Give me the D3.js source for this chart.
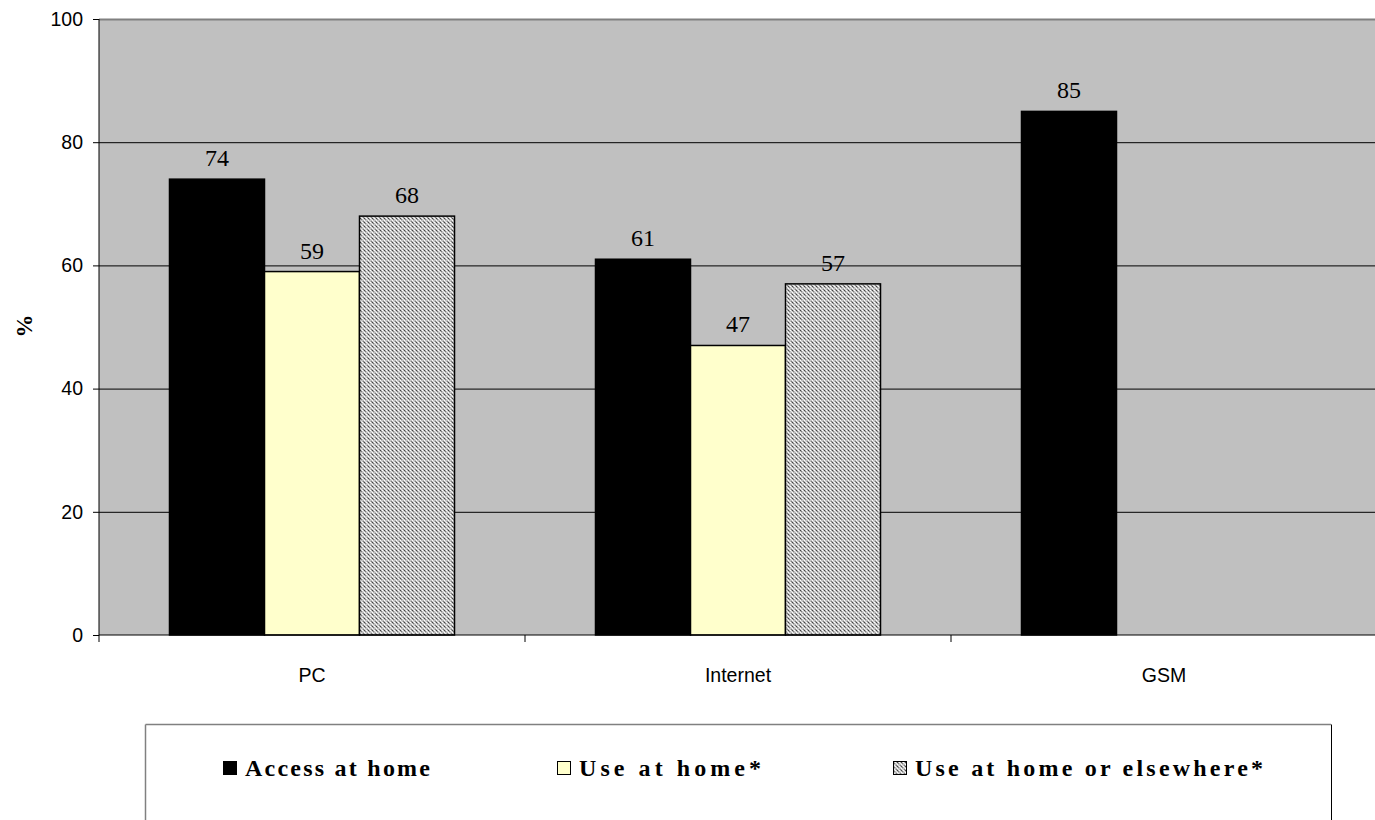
<!DOCTYPE html>
<html><head><meta charset="utf-8">
<script src="https://cdn.jsdelivr.net/npm/d3@7"></script>
<style>body{margin:0;background:#fff;}svg{display:block;}</style>
</head><body>
<svg id="c" width="1375" height="820"></svg>
<script>
const categories = ["PC", "Internet", "GSM"];
const seriesNames = ["Access at home", "Use at home*", "Use at home or elsewhere*"];
const accessAtHome = [74, 61, 85];
const useAtHome = [59, 47, null];
const useElsewhere = [68, 57, null];
const yTicks = [0, 20, 40, 60, 80, 100];

const seriesValues = [accessAtHome, useAtHome, useElsewhere];
const svg = d3.select("#c");
const L = 99, R = 1377, T = 19, B = 635;

const defs = svg.append("defs");
const pat = defs.append("pattern").attr("id","dots").attr("patternUnits","userSpaceOnUse")
  .attr("width",4).attr("height",4);
pat.append("rect").attr("width",4).attr("height",4).attr("fill","#bdbdbd");
[[0,0,"#ffffff"],[2,2,"#ffffff"],[1,3,"#7a7a7a"],[3,1,"#7a7a7a"],[1,1,"#e8e8e8"],[3,3,"#e8e8e8"],[0,2,"#444"]]
  .forEach(([px,py,c])=>pat.append("rect").attr("x",px).attr("y",py).attr("width",1).attr("height",1).attr("fill",c));

const fills = ["#000000", "#ffffcc", "url(#dots)"];

const x = d3.scaleBand().domain(categories).range([L, R]).paddingInner(0).paddingOuter(0);
const xs = d3.scaleBand().domain(d3.range(3)).range([0, x.bandwidth()]).paddingInner(0).paddingOuter(0.742);
const y = d3.scaleLinear().domain([0, 100]).range([B, T]);

svg.append("rect").attr("x",L).attr("y",T).attr("width",R-L).attr("height",B-T).attr("fill","#c0c0c0");

// gridlines
svg.append("g").selectAll("line").data(yTicks.filter(d=>d>0)).join("line")
  .attr("x1",L).attr("x2",R).attr("y1",d=>y(d)+0.5).attr("y2",d=>y(d)+0.5)
  .attr("stroke",d=>d===100?"#808080":"#000").attr("stroke-width",d=>d===100?2:1);

// bars
const bars = [];
categories.forEach((c,ci)=>seriesValues.forEach((s,si)=>{ if(s[ci]!=null) bars.push({c,si,v:s[ci]}); }));
svg.append("g").selectAll("rect").data(bars).join("rect")
  .attr("x",d=>x(d.c)+xs(d.si)).attr("width",xs.bandwidth())
  .attr("y",d=>y(d.v)).attr("height",d=>B-y(d.v))
  .attr("fill",d=>fills[d.si]).attr("stroke","#000").attr("stroke-width",1.5);

svg.append("g").selectAll("text").data(bars).join("text")
  .attr("x",d=>x(d.c)+xs(d.si)+xs.bandwidth()/2).attr("y",d=>y(d.v)-13)
  .attr("text-anchor","middle").attr("font-family","Liberation Serif, Times New Roman, serif")
  .attr("font-size",24).attr("fill","#000").text(d=>d.v);

// y axis
const ya = svg.append("g").attr("transform",`translate(${L},0)`)
  .call(d3.axisLeft(y).tickValues(yTicks).tickSize(6).tickPadding(10).tickFormat(d3.format("d")));
ya.attr("font-size",null).attr("font-family",null);
ya.select(".domain").attr("stroke","#000").attr("d",`M0,${T}V${B}`);
ya.selectAll("text").style("font-family","Liberation Sans, Arial, sans-serif").style("font-size","19.5px").attr("fill","#000");
ya.selectAll("line").attr("stroke","#000");

// x axis
const xa = svg.append("g").attr("transform",`translate(0,${B})`)
  .call(d3.axisBottom(x).tickSize(0).tickPadding(33));
xa.attr("font-size",null).attr("font-family",null);
xa.select(".domain").attr("stroke","#000").attr("d",`M${L},0H${R}`);
xa.selectAll("text").style("font-family","Liberation Sans, Arial, sans-serif").style("font-size","19.5px").attr("fill","#000");
// category separator ticks
const bounds = categories.map(c=>x(c)).concat([R]);
svg.append("g").selectAll("line").data(bounds).join("line")
  .attr("x1",d=>d).attr("x2",d=>d).attr("y1",B).attr("y2",B+7).attr("stroke","#000");

// y label
svg.append("text").attr("transform","translate(32,326) rotate(-90)")
  .attr("text-anchor","middle").attr("font-family","Liberation Serif, Times New Roman, serif")
  .attr("font-weight","bold").attr("font-size",23).text("%");

// legend
const lg = svg.append("g");
lg.append("line").attr("x1",145.5).attr("x2",1331).attr("y1",724.5).attr("y2",724.5).attr("stroke","#808080").attr("stroke-width",1.5);
lg.append("line").attr("x1",145.5).attr("x2",145.5).attr("y1",724.5).attr("y2",822).attr("stroke","#808080").attr("stroke-width",1.5);
lg.append("line").attr("x1",1331.5).attr("x2",1331.5).attr("y1",724.5).attr("y2",822).attr("stroke","#000").attr("stroke-width",1);
const legX = [223, 557, 893];
const legW = [185, 182, 348];
const li = lg.selectAll("g.item").data(seriesNames).join("g").attr("class","item")
  .attr("transform",(d,i)=>`translate(${legX[i]},0)`);
li.append("rect").attr("x",0.5).attr("y",761.5).attr("width",13).attr("height",13)
  .attr("fill",(d,i)=>fills[i]).attr("stroke","#000").attr("stroke-width",1);
li.append("text").attr("x",22).attr("y",776).attr("font-family","Liberation Serif, Times New Roman, serif")
  .attr("font-weight","bold").attr("font-size",24)
  .attr("textLength",(d,i)=>legW[i]).attr("lengthAdjust","spacing").text(d=>d);
</script>
</body></html>
